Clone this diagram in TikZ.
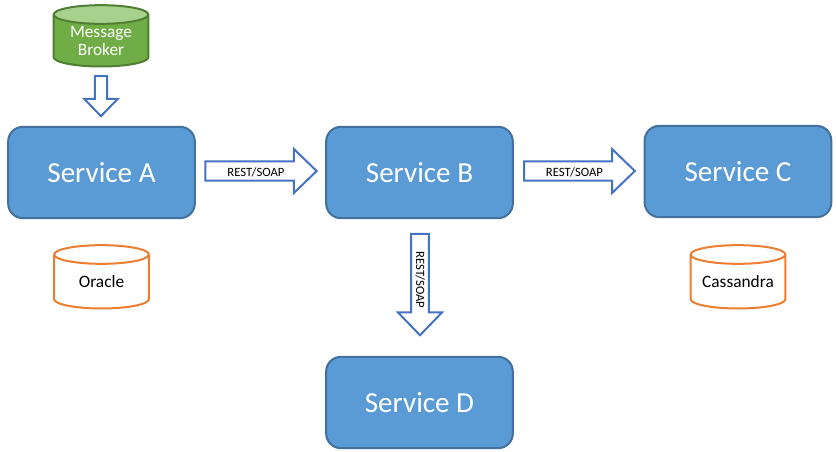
\documentclass[tikz,border=0pt]{standalone}
\usepackage{fontspec}
\setmainfont{Carlito}
\usetikzlibrary{shapes.geometric,shapes.arrows}

\definecolor{svcblue}{HTML}{5B9BD5}
\definecolor{svcline}{HTML}{41719C}
\definecolor{arrowblue}{HTML}{4472C4}
\definecolor{dbgreen}{HTML}{70AD47}
\definecolor{dbgreenline}{HTML}{507E32}
\definecolor{dbgreentop}{HTML}{A9D18E}
\definecolor{dborange}{HTML}{ED7D31}

\begin{document}
\begin{tikzpicture}[
    x=0.75pt, y=-0.75pt,
    svc/.style={
        draw=svcline, fill=svcblue, rounded corners=11pt, line width=1.5pt,
        minimum width=140pt, minimum height=68.5pt, inner sep=0pt,
        text=white, font=\fontsize{21.8}{26}\selectfont
    },
    store/.style={
        draw=dborange, line width=1.5pt, shape=cylinder, shape border rotate=90,
        aspect=0.25, minimum width=71pt, minimum height=47.5pt, inner sep=0pt,
        text width=56pt, align=center, text height=10.5pt, text depth=1.5pt,
        font=\fontsize{13}{14.3}\selectfont
    },
    broker/.style={
        store, draw=dbgreenline, cylinder uses custom fill,
        cylinder body fill=dbgreen, cylinder end fill=dbgreentop,
        minimum height=46pt, text height=-1.5pt, text depth=5.5pt, text=white
    },
    flow/.style={
        draw=arrowblue, fill=white, line width=1.5pt, shape=single arrow,
        single arrow head extend=8.6pt, single arrow tip angle=88,
        minimum width=33pt, inner sep=0pt, text height=10pt, text depth=2pt,
        font=\fontsize{9.5}{11}\selectfont
    },
    feed/.style={
        flow, rotate=-90, single arrow head extend=6.4pt,
        minimum width=25pt, minimum height=30pt, text height=6pt, text depth=0pt
    }
]
\useasboundingbox (0,0) rectangle (836,452);

% services
\node[svc] (svca) at (101.5,172.5) {Service A};
\node[svc] (svcb) at (419.5,172.5) {Service B};
\node[svc] (svcc) at (738,171.5) {Service C};
\node[svc] (svcd) at (419.5,402.5) {Service D};

% data stores
\node[broker] (broker) at (101,41) {Message\\[-0.5pt]Broker};
\node[store] (oracle) at (101.5,282) {Oracle};
\node[store] (cassandra) at (738,282) {Cassandra};

% block arrows
\node[feed] (brokerfeed) at (101,93) {};
\node[flow, minimum height=83.5pt] (ab) at (256,171) {REST/SOAP};
\node[flow, minimum height=83pt] (bc) at (574.5,171) {REST/SOAP};
\node[flow, rotate=-90, minimum height=76pt, text height=8pt] (bd) at (420,280) {REST/SOAP};

\end{tikzpicture}
\end{document}
